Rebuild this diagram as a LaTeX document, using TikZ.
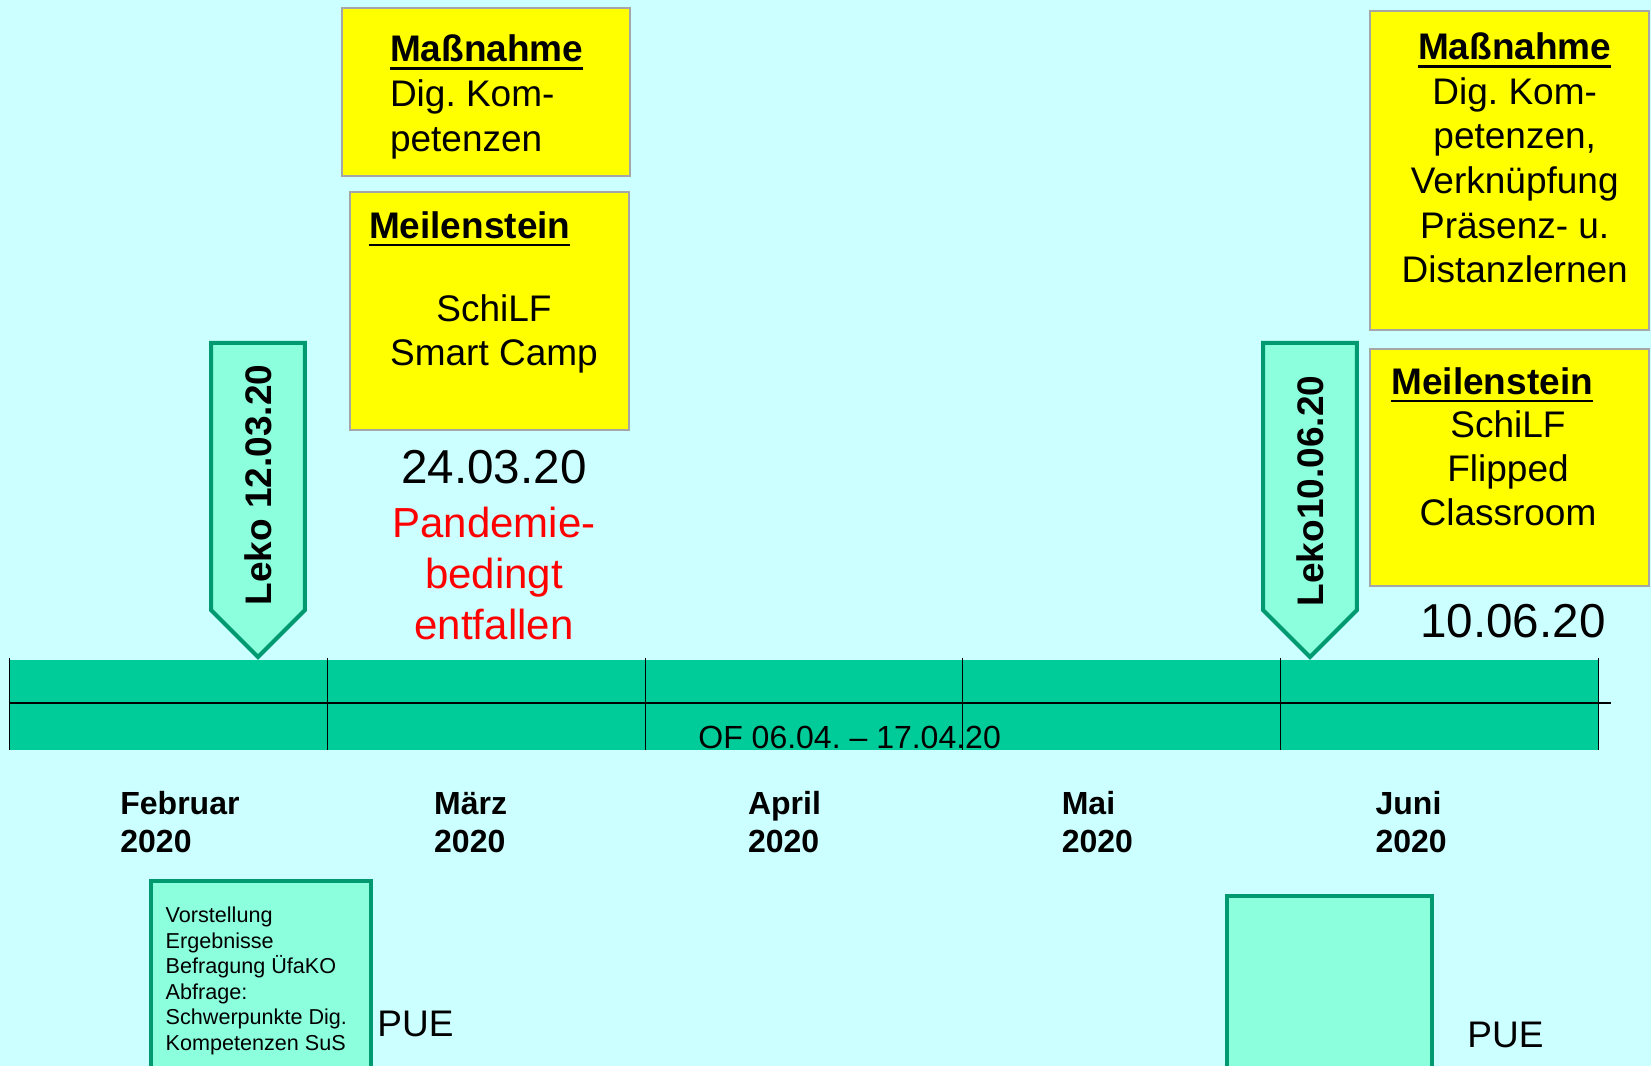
\documentclass[tikz,border=0pt]{standalone}
\usepackage{fontspec}
\setmainfont{Liberation Sans}
\frenchspacing
\usetikzlibrary{positioning,shapes.arrows}
\definecolor{Sky}{HTML}{CCFFFF}
\definecolor{Bar}{HTML}{00CC99}
\definecolor{Mint}{HTML}{8CFFDC}
\definecolor{Leaf}{HTML}{009970}
\definecolor{Lemon}{HTML}{FFFF00}
\definecolor{Frame}{HTML}{A6A6A6}
\definecolor{Alarm}{HTML}{FF0000}
\newcommand{\ulbold}[1]{\setbox0\hbox{\bfseries #1}\leavevmode\rlap{\rule[-4pt]{\wd0}{1.3pt}}\box0}
\tikzset{
  ybox/.style={draw=Frame,fill=Lemon,line width=1pt,minimum width=139.5pt},
  pbox/.style={draw=Leaf,fill=Mint,line width=2pt},
  leko/.style={single arrow,draw=Leaf,fill=Mint,line width=2pt,rotate=90,shape border rotate=180,single arrow head extend=0pt,minimum height=157pt,inner ysep=15.7pt,text height=13.5pt,text depth=0pt,font=\fontsize{18.5}{22}\selectfont\bfseries},
  boxtxt/.style={font=\fontsize{18.5}{22}\selectfont},
  datetxt/.style={font=\fontsize{23.8}{28}\selectfont},
  monthlbl/.style={anchor=west,align=left,text height=11.7pt,text depth=0pt,font=\fontsize{16}{19}\selectfont\bfseries},
  smalltxt/.style={anchor=north west,align=left,font=\fontsize{10.8}{12.75}\selectfont},
}
\begin{document}
\begin{tikzpicture}[x=0.5pt,y=-0.5pt,inner sep=0pt]
  \useasboundingbox (0,0) rectangle (1651,1066);
  \fill[Sky] (0,0) rectangle (1651,1066);
  \clip (0,0) rectangle (1651,1066);
  % timeline
  \fill[Bar] (9.5,660) rectangle (1598.5,750);
  \draw[line width=1pt] (9.5,703) -- (1611,703);
  \foreach \x in {9.5,327.5,645.5,962.5,1280.5,1598.5}
    \draw[line width=.8pt] (\x,658) -- (\x,750);
  \node[anchor=west,font=\fontsize{16}{19}\selectfont] (of) at (698,737) {OF 06.04. – 17.04.20};
  \foreach \m/\x [count=\i] in {Februar/120,März/433.8,April/747.6,Mai/1061.4,Juni/1375.2}
    \node[monthlbl] (mon\i) at (\x,840.5) {\m\\2020};
  % Leko
  \node[leko] (leko1) at (258,476.5) {Leko 12.03.20\hspace{8.5pt}\null};
  \node[leko] (leko2) at (1310,476.5) {Leko10.06.20\hspace{14.5pt}\null};
  % Maerz
  \node[ybox,minimum width=144pt,minimum height=83.8pt] (mass1) at (486,92.2) {};
  \node[boxtxt,align=left,anchor=west,font=\fontsize{18.5}{22.5}\selectfont] (mass1txt) at (389.6,97) {\ulbold{Maßnahme}\\Dig. Kom-\\petenzen};
  \node[ybox,minimum height=119pt] (mil1) at (489.1,310.6) {};
  \node[boxtxt,anchor=west] (mil1head) at (368.6,229) {\ulbold{Meilenstein}};
  \node[boxtxt,align=center] (mil1body) at (494,334) {SchiLF\\Smart Camp};
  \node[datetxt] (date1) at (494,467.5) {24.03.20};
  \node[align=center,text=Alarm,font=\fontsize{21}{25.5}\selectfont] (cancel) at (494,573) {Pandemie-\\bedingt\\entfallen};
  % Juni
  \node[ybox,minimum height=159.5pt] (mass2) at (1509.5,170) {};
  \node[boxtxt,align=center,font=\fontsize{18.5}{22.3}\selectfont] (mass2txt) at (1514.7,158) {\ulbold{Maßnahme}\\Dig. Kom-\\petenzen,\\Verknüpfung\\Präsenz- u.\\Distanzlernen};
  \node[ybox,minimum height=118.5pt] (mil2) at (1509.5,467) {};
  \node[boxtxt,anchor=west] (mil2head) at (1391,385) {\ulbold{Meilenstein}};
  \node[boxtxt,align=center] (mil2body) at (1508,468) {SchiLF\\Flipped\\Classroom};
  \node[datetxt] (date2) at (1513,621.3) {10.06.20};
  % PUE
  \node[pbox,minimum width=110pt,minimum height=99.5pt] (pue1) at (260.6,980.5) {};
  \node[smalltxt] (pue1txt) at (165.3,906.5) {Vorstellung\\Ergebnisse\\Befragung ÜfaKO\\Abfrage:\\Schwerpunkte Dig.\\Kompetenzen SuS};
  \node[boxtxt,anchor=west] (pue1lbl) at (377,1023.5) {PUE};
  \node[pbox,minimum width=102.6pt,minimum height=92pt] (pue2) at (1329.4,988) {};
  \node[boxtxt,anchor=west] (pue2lbl) at (1467,1035) {PUE};
\end{tikzpicture}
\end{document}
